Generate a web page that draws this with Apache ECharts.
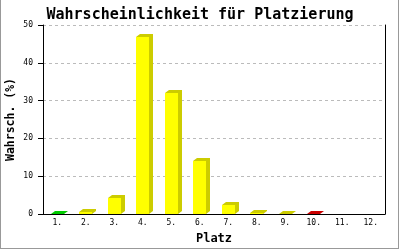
<!DOCTYPE html>
<html>
<head>
<meta charset="utf-8">
<script src="https://cdn.jsdelivr.net/npm/echarts@6/dist/echarts.min.js"></script>
<style>html,body{margin:0;padding:0;background:#fff}#c{width:400px;height:250px}</style>
</head>
<body>
<div id="c"></div>
<script>
var categories = ['1.', '2.', '3.', '4.', '5.', '6.', '7.', '8.', '9.', '10.', '11.', '12.'];
var values = [0.1, 0.6, 4.3, 46.7, 32.1, 14.0, 2.5, 0.3, 0.05, 0.1, 0, 0];
var yTicks = [0, 10, 20, 30, 40, 50];
var titleText = 'Wahrscheinlichkeit für Platzierung';
var yName = 'Wahrsch. (%)';
var xName = 'Platz';

var frontColors = ['#00cc00', '#ffff00', '#ffff00', '#ffff00', '#ffff00', '#ffff00', '#ffff00', '#ffff00', '#ffff00', '#cc0000', '#ffff00', '#ffff00'];
var shadeColors = ['#00cc00', '#cccc00', '#cccc00', '#cccc00', '#cccc00', '#cccc00', '#cccc00', '#cccc00', '#cccc00', '#cc0000', '#cccc00', '#cccc00'];

var mono = '"DejaVu Sans Mono", "Liberation Mono", monospace';
var chart = echarts.init(document.getElementById('c'), null, {renderer: 'canvas'});

function renderItem(params, api) {
  var idx = api.value(0);
  var v = api.value(1);
  if (!(v > 0)) return null;
  var top = api.coord([idx, v]);
  var base = api.coord([idx, 0]);
  var w = 13, dx = 4, dy = 3;
  var x0 = Math.round(top[0] - w / 2);
  var x1 = x0 + w;
  var yt = Math.round(top[1]);
  var yb = Math.round(base[1]);
  return {
    type: 'group',
    children: [
      {
        type: 'polygon',
        shape: {points: [[x0, yt], [x0 + dx, yt - dy], [x1 + dx, yt - dy], [x1 + dx, yb - dy], [x1, yb], [x1, yt]]},
        style: {fill: shadeColors[idx]}
      },
      {
        type: 'rect',
        shape: {x: x0, y: yt, width: w, height: yb - yt},
        style: {fill: frontColors[idx]}
      }
    ]
  };
}

var option = {
  animation: false,
  backgroundColor: '#ffffff',
  title: {
    text: titleText,
    left: 'center',
    top: 3,
    textStyle: {fontFamily: mono, fontSize: 15, fontWeight: 'bold', color: '#000'}
  },
  grid: {left: 43, right: 15, top: 25, bottom: 36, containLabel: false, outerBoundsMode: 'none'},
  xAxis: {
    type: 'category',
    data: categories,
    boundaryGap: true,
    name: xName,
    nameLocation: 'middle',
    nameGap: 19,
    nameMoveOverlap: false,
    nameTextStyle: {fontFamily: mono, fontSize: 12, fontWeight: 'bold', color: '#000'},
    axisLine: {onZero: false, lineStyle: {color: '#000', width: 1}},
    axisTick: {show: false},
    axisLabel: {fontFamily: mono, fontSize: 8, color: '#000', margin: 5, interval: 0}
  },
  yAxis: [{
    type: 'value',
    min: yTicks[0],
    max: yTicks[yTicks.length - 1],
    interval: 10,
    name: yName,
    nameLocation: 'middle',
    nameGap: 26,
    nameRotate: 90,
    nameMoveOverlap: false,
    nameTextStyle: {fontFamily: mono, fontSize: 11.5, fontWeight: 'bold', color: '#000'},
    axisLine: {show: true, lineStyle: {color: '#000', width: 1}},
    axisTick: {show: true, length: 5, lineStyle: {color: '#000'}},
    axisLabel: {fontFamily: mono, fontSize: 8, color: '#000', margin: 10},
    splitLine: {show: true, lineStyle: {color: '#bbbbbb', type: [3, 3], width: 1}}
  }, {
    type: 'value',
    position: 'right',
    min: yTicks[0],
    max: yTicks[yTicks.length - 1],
    interval: 10,
    axisLine: {show: true, lineStyle: {color: '#000', width: 1}},
    axisTick: {show: false},
    axisLabel: {show: false},
    splitLine: {show: false}
  }],
  series: [{
    type: 'custom',
    renderItem: renderItem,
    encode: {x: 0, y: 1},
    data: values.map(function (v, i) { return [i, v]; }),
    z: 3
  }],
  graphic: [
    {type: 'line', shape: {x1: 0.5, y1: 0, x2: 0.5, y2: 249}, style: {stroke: '#999', lineWidth: 1}},
    {type: 'line', shape: {x1: 398.5, y1: 0, x2: 398.5, y2: 249}, style: {stroke: '#999', lineWidth: 1}},
    {type: 'line', shape: {x1: 0, y1: 248.5, x2: 399, y2: 248.5}, style: {stroke: '#999', lineWidth: 1}}
  ]
};
chart.setOption(option);
</script>
</body>
</html>
